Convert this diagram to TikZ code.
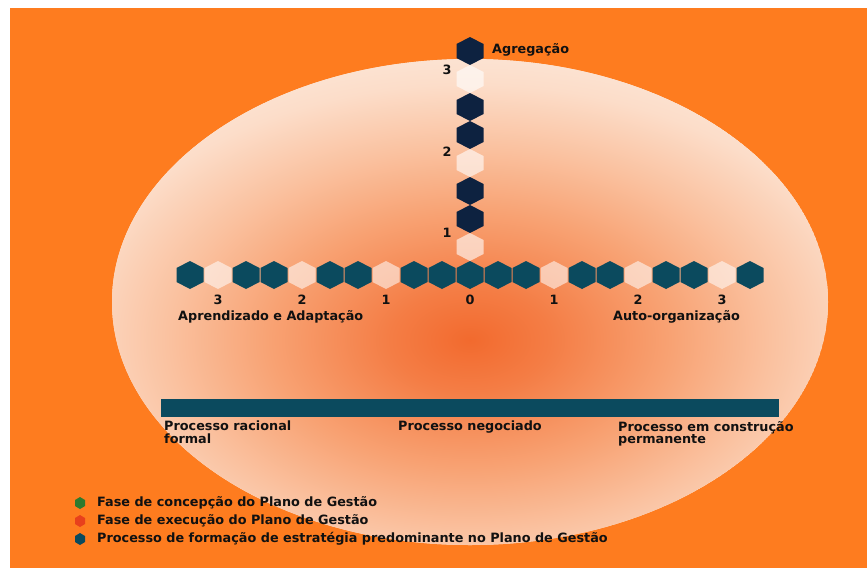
\documentclass[tikz,border=0pt]{standalone}
\usepackage{fontspec}
\setmainfont{DejaVu Sans}
\usetikzlibrary{positioning}
\definecolor{fundo}{HTML}{FE7C1F}
\definecolor{azul}{HTML}{0B4A5E}
\definecolor{marinho}{HTML}{0D2240}
\definecolor{verde}{HTML}{2E7A2E}
\definecolor{vermelho}{HTML}{E8401C}
\definecolor{preto}{HTML}{111111}
\definecolor{c0}{HTML}{F26A2E}
\definecolor{c1}{HTML}{F47D45}
\definecolor{c2}{HTML}{F8A273}
\definecolor{c3}{HTML}{FAC19F}
\definecolor{c4}{HTML}{FCDDC9}
\definecolor{c5}{HTML}{FDEBDF}
\pgfdeclareradialshading{brilho}{\pgfpoint{0bp}{0bp}}{color(0bp)=(c0); color(4bp)=(c1); color(10bp)=(c2); color(15bp)=(c3); color(20bp)=(c4); color(25bp)=(c5); color(50bp)=(c5)}
\begin{document}
\begin{tikzpicture}[x=1pt,y=-1pt,
	txt/.style={font=\bfseries\fontsize{12.8}{12.5}\selectfont,inner sep=0,text=preto},
	hexa/.pic={\fill(0,-14)--(13.5,-7)--(13.5,7)--(0,14)--(-13.5,7)--(-13.5,-7)--cycle;},
	mini/.pic={\fill(0,-6)--(5,-3)--(5,3)--(0,6)--(-5,3)--(-5,-3)--cycle;}]
	\useasboundingbox(0,0)rectangle(867,568);
	\fill[fundo](10,8)rectangle(867,568);
	\begin{scope}
		\clip(470,302)ellipse[x radius=358pt,y radius=243pt];
		\fill[c5](470,302)ellipse[x radius=358pt,y radius=243pt];
		\shade[shading=brilho](470,340)ellipse[x radius=500pt,y radius=320pt];
	\end{scope}
	% linha horizontal
	\foreach \i in {-10,-8,-7,-5,-4,-2,-1,0,1,2,4,5,7,8,10}
		\pic[fill=azul](h\i)at(470+28*\i,275){hexa};
	\foreach \i in {-9,-6,-3,3,6,9}
		\pic[fill=white,fill opacity=.55](h\i)at(470+28*\i,275){hexa};
	% coluna
	\foreach \k in {2,3,5,6,8}
		\pic[fill=marinho](v\k)at(470,275-28*\k){hexa};
	\foreach \k in {1,4,7}
		\pic[fill=white,fill opacity=.6](v\k)at(470,275-28*\k){hexa};
	\foreach \i/\t in {-9/3,-6/2,-3/1,0/0,3/1,6/2,9/3}
		\node[txt](n\i)at(470+28*\i,300){\t};
	\node[txt](m1)at(447,233){1};
	\node[txt](m2)at(447,152){2};
	\node[txt](m3)at(447,70){3};
	\node[txt,anchor=west](agr)at(492,50){Agregação};
	\node[txt,anchor=west](apr)at(178,317){Aprendizado e Adaptação};
	\node[txt,anchor=west](auto)at(613,317){Auto-organização};
	% barra
	\fill[azul](161,399)rectangle(779,417);
	\node[txt,anchor=north west,align=left](rac)at(164,421){Processo racional\\formal};
	\node[txt,anchor=north west](neg)at(398,421){Processo negociado};
	\node[txt,anchor=north west,align=left](con)at(618,421){Processo em construção\\permanente};
	% legenda
	\pic[fill=verde]at(80,503){mini};
	\pic[fill=vermelho]at(80,521){mini};
	\pic[fill=azul]at(80,539){mini};
	\node[txt,anchor=west](l1)at(97,503){Fase de concepção do Plano de Gestão};
	\node[txt,anchor=west](l2)at(97,521){Fase de execução do Plano de Gestão};
	\node[txt,anchor=west](l3)at(97,539){Processo de formação de estratégia predominante no Plano de Gestão};
\end{tikzpicture}
\end{document}
